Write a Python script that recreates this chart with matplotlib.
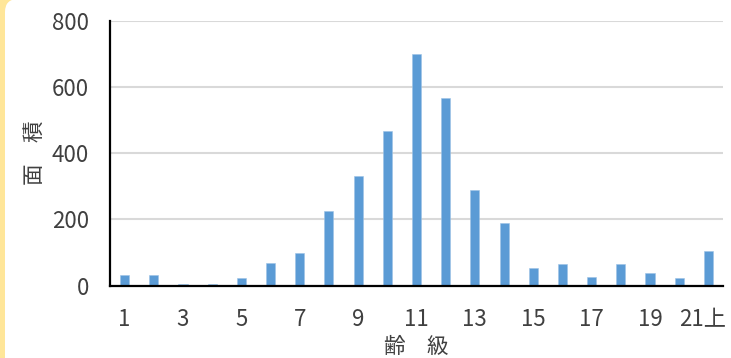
import matplotlib
matplotlib.use("Agg")
import matplotlib.pyplot as plt
from matplotlib.patches import FancyBboxPatch
from matplotlib.transforms import IdentityTransform, ScaledTranslation

# age classes and area per class
age_classes = list(range(1, 22))
area = [32, 32, 6, 4, 24, 69, 98, 226, 330, 467, 699, 566, 290, 189,
        54, 64, 27, 66, 39, 24, 106]
tick_positions = [1, 3, 5, 7, 9, 11, 13, 15, 17, 19, 21]
tick_labels = ["1", "3", "5", "7", "9", "11", "13", "15", "17", "19", "21上"]
y_ticks = [0, 200, 400, 600, 800]

plt.rcParams["font.family"] = ["Noto Sans CJK JP", "DejaVu Sans"]

fig = plt.figure(figsize=(7.31, 3.58), dpi=100, facecolor="#FFE699")

# white card with rounded corners over the yellow frame
card = FancyBboxPatch((5, -30), 733, 389,
                      boxstyle="round,pad=0,rounding_size=13",
                      facecolor="white", edgecolor="none",
                      transform=IdentityTransform(), zorder=0)
fig.add_artist(card)

ax = fig.add_axes([0.1505, 0.202, 0.8385, 0.7407])
ax.set_facecolor("none")
ax.bar(age_classes, area, width=0.31, color="#5B9BD5",
       edgecolor="#9DC3E6", linewidth=0.4, zorder=3)

ax.set_xlim(0.5, 21.5)
ax.set_ylim(0, 800)
ax.set_yticks(y_ticks)
ax.set_xticks(tick_positions)
ax.set_xticklabels(tick_labels)
ax.grid(axis="y", color="#D9D9D9", linewidth=1.5, zorder=0)
ax.set_axisbelow(True)

for side in ("top", "right"):
    ax.spines[side].set_visible(False)
for side in ("left", "bottom"):
    ax.spines[side].set_color("black")
    ax.spines[side].set_linewidth(1.6)
    ax.spines[side].set_zorder(4)

ax.tick_params(axis="both", length=0, labelsize=16, labelcolor="#404040")
ax.tick_params(axis="y", pad=15)
ax.tick_params(axis="x", pad=16)

# keep the last label inside the figure
last = ax.get_xticklabels()[-1]
last.set_transform(last.get_transform() + ScaledTranslation(-4 / 72, 0, fig.dpi_scale_trans))

ax.set_xlabel("齢　級", fontsize=15.5, color="#404040")
ax.set_ylabel("面　積", fontsize=15.5, color="#404040")
ax.xaxis.set_label_coords(0.5, -0.19)
ax.yaxis.set_label_coords(-0.105, 0.5)

fig.savefig("out.png", dpi=100, facecolor=fig.get_facecolor())
